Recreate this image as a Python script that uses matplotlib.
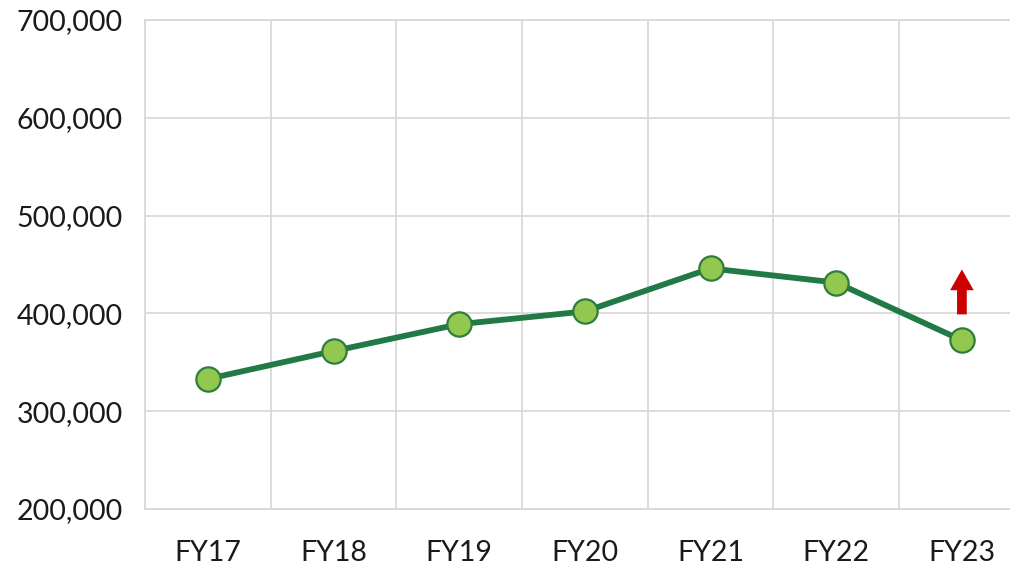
import matplotlib
matplotlib.use("Agg")
import matplotlib.pyplot as plt
from matplotlib.ticker import FuncFormatter, MultipleLocator

# values
years = ["FY17", "FY18", "FY19", "FY20", "FY21", "FY22", "FY23"]
values = [333000, 361500, 389000, 402000, 446000, 431500, 372500]
y_ticks = [200000, 300000, 400000, 500000, 600000, 700000]
arrow_from = 399000
arrow_to = 445000

plt.rcParams['font.family'] = ['Lato', 'DejaVu Sans']

fig = plt.figure(figsize=(10.1, 5.65), dpi=100)
# axes runs past the right edge of the figure, like the cropped original
ax = fig.add_axes([0.1436, 0.0991, 0.871, 0.8655])

x = list(range(len(years)))
ax.plot(x, values, color='#217a45', lw=4.2, marker='o', ms=17.5,
        markerfacecolor='#92c84f', markeredgecolor='#2e7d3e', markeredgewidth=1.6,
        zorder=3, solid_capstyle='round')

ax.annotate('', xy=(6, arrow_to), xytext=(6, arrow_from),
            arrowprops=dict(width=7, headwidth=17, headlength=15,
                            facecolor='#cc0000', edgecolor='none', shrink=0),
            zorder=4)

ax.set_xlim(-0.5, len(years) - 0.5)
ax.set_ylim(y_ticks[0], y_ticks[-1])
ax.set_xticks(x)
ax.set_xticklabels(years)
ax.set_yticks(y_ticks)
ax.yaxis.set_major_formatter(FuncFormatter(lambda v, p: f"{int(v):,}"))
ax.xaxis.set_minor_locator(MultipleLocator(1, offset=0.5))

grid_c = '#d9d9d9'
ax.grid(axis='y', which='major', color=grid_c, lw=1.3)
ax.grid(axis='x', which='minor', color=grid_c, lw=1.3)
ax.set_axisbelow(True)

for s in ['left', 'top', 'bottom']:
    ax.spines[s].set_color(grid_c)
    ax.spines[s].set_linewidth(1.3)
ax.spines['right'].set_visible(False)

ax.tick_params(axis='both', which='both', length=0, labelsize=20.5, colors='#1a1a1a')
ax.tick_params(axis='y', pad=16)
ax.tick_params(axis='x', pad=22)

fig.savefig('out.png', dpi=100)
